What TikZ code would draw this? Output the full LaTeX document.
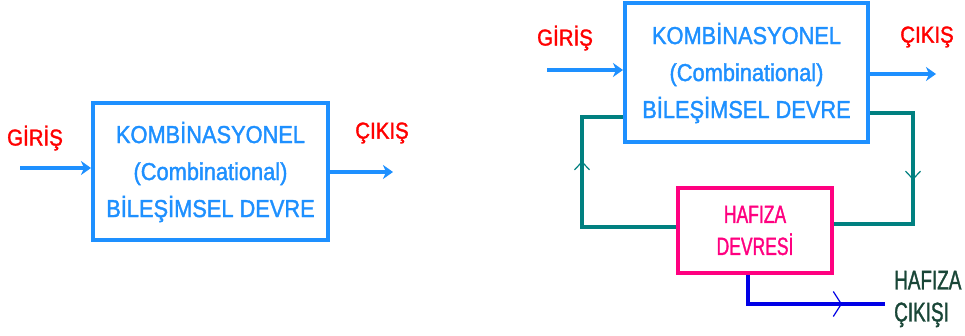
\documentclass[tikz,border=0pt]{standalone}
\usepackage{fontspec}
\setmainfont{Liberation Sans}[FakeStretch=0.89, FakeBold=1.5]
\newfontfamily\narrowfont{Liberation Sans}[FakeStretch=0.7, FakeBold=1.2]
\usetikzlibrary{arrows.meta,decorations.markings,calc}
\definecolor{boxblue}{RGB}{30,144,255}
\definecolor{loopteal}{RGB}{0,128,128}
\definecolor{mempink}{RGB}{255,0,128}
\definecolor{outblue}{RGB}{0,0,230}
\definecolor{outtext}{RGB}{25,70,55}
\tikzset{
  combbox/.style={draw=boxblue, line width=4pt, inner sep=0pt, text=boxblue,
    font=\fontsize{24.5}{37}\selectfont, align=center},
  membox/.style={draw=mempink, line width=4pt, inner sep=0pt, text=mempink,
    font=\narrowfont\fontsize{25}{32}\selectfont, align=center},
  siglabel/.style={text=red, inner sep=0pt, font=\fontsize{23}{27}\selectfont},
  flowarrow/.style={draw=boxblue, line width=4pt,
    -{Stealth[length=10pt,width=14pt,inset=3pt]}},
  loopline/.style={draw=loopteal, line width=4pt, line join=miter},
  outline/.style={draw=outblue, line width=4pt},
  midtip/.style 2 args={postaction={decorate}, decoration={markings,
    mark=at position #1 with {\arrow{Straight Barb[length=8pt,width=#2,line width=1.2pt]}}}}
}
\begin{document}
\begin{tikzpicture}[x=1pt,y=-1pt]
\fill[white] (0,0) rectangle (965,336);
\useasboundingbox (0,0) rectangle (965,336);

% ---- combinational circuit alone ----
\node[combbox, minimum width=235pt, minimum height=137pt] (lcomb) at (210.5,172)
  {KOMBİNASYONEL\\(Combinational)\\BİLEŞİMSEL DEVRE};
\node[siglabel] (lin) at (35,138) {GİRİŞ};
\node[siglabel] (lout) at (382,133) {ÇIKIŞ};
\coordinate (lstart) at (20,168);
\coordinate (lend) at (393,172);
\draw[flowarrow] (lstart) -- (lcomb.west |- lstart);
\draw[flowarrow] (lcomb.east |- lend) -- (lend);

% ---- combinational circuit with memory feedback ----
\node[combbox, minimum width=243pt, minimum height=139pt] (rcomb) at (746.5,73)
  {KOMBİNASYONEL\\(Combinational)\\BİLEŞİMSEL DEVRE};
\node[siglabel] (rin) at (565,38) {GİRİŞ};
\node[siglabel] (rout) at (927,37) {ÇIKIŞ};
\coordinate (rstart) at (547,70);
\coordinate (rend) at (936,74);
\draw[flowarrow] (rstart) -- (rcomb.west |- rstart);
\draw[flowarrow] (rcomb.east |- rend) -- (rend);

\node[membox, minimum width=154pt, minimum height=85pt] (mem) at (755,230.5)
  {HAFIZA\\DEVRESİ};

% feedback loop
\coordinate (lft) at (582,117);
\coordinate (lfb) at (582,227);
\coordinate (rgt) at (913,113);
\coordinate (rgb) at (913,224);
\draw[loopline, midtip={160pt}{15pt}] (mem.west |- lfb) -- (lfb) -- (lft) -- (rcomb.west |- lft);
\draw[loopline, midtip={110pt}{15pt}] (rcomb.east |- rgt) -- (rgt) -- (rgb) -- (mem.east |- rgb);

% memory output
\node[text=outtext, anchor=west, align=left, inner sep=0pt,
  font=\narrowfont\fontsize{27}{32}\selectfont] (memout) at (894,299)
  {HAFIZA\\ÇIKIŞI};
\coordinate (mdrop) at (748,304);
\coordinate (mend) at (885,304);
\draw[outline, midtip={123pt}{25pt}] (mem.south -| mdrop) -- (mdrop) -- (mend);
\end{tikzpicture}
\end{document}
